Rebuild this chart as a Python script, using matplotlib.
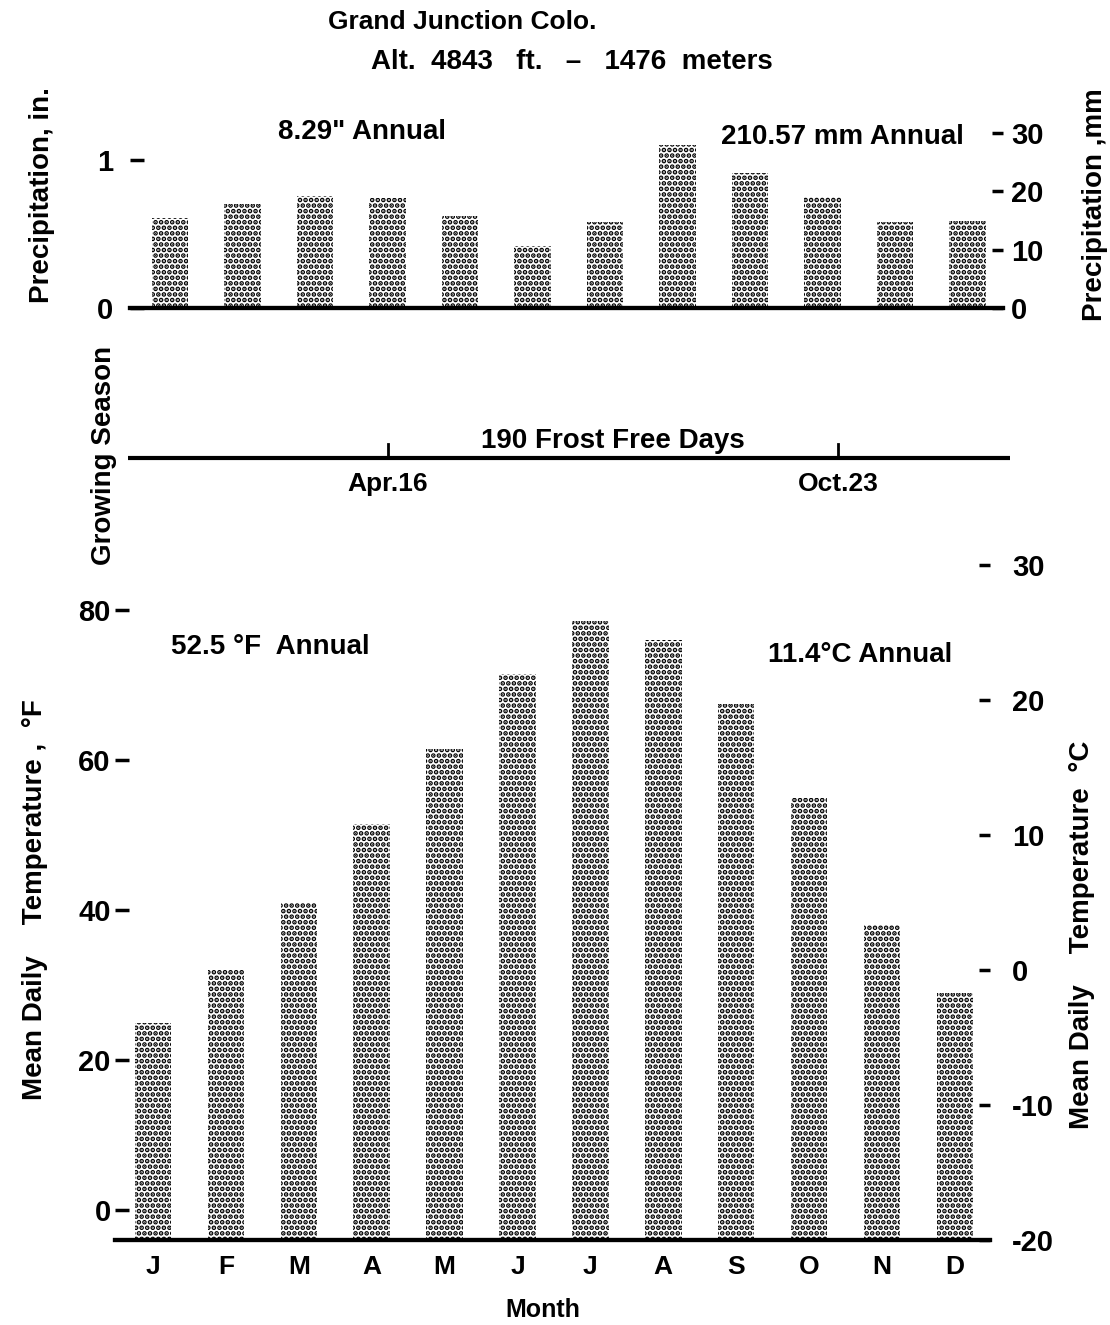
import datetime
import numpy as np
import matplotlib
matplotlib.use('Agg')
import matplotlib.pyplot as plt

# Grand Junction, Colo. climate summary
months = ['J', 'F', 'M', 'A', 'M', 'J', 'J', 'A', 'S', 'O', 'N', 'D']
precip_in = [0.61, 0.70, 0.76, 0.74, 0.62, 0.42, 0.58, 1.10, 0.91, 0.75, 0.58, 0.59]
temp_f = [25, 32, 41, 51.5, 61.5, 71.5, 78.5, 76, 67.5, 55, 38, 29]
annual_precip_in = 8.29
annual_temp_f = 52.5
last_frost = (4, 16)   # month, day
first_frost = (10, 23)
altitude_ft = 4843
altitude_m = 1476

plt.rcParams['font.family'] = ['Liberation Sans', 'DejaVu Sans']
plt.rcParams['font.weight'] = 'bold'
plt.rcParams['hatch.linewidth'] = 2.4
plt.rcParams['axes.unicode_minus'] = False

W, H = 1110, 1325
fig = plt.figure(figsize=(W / 100, H / 100), dpi=100)


def rect(left, top, right, bottom):
    return [left / W, 1 - bottom / H, (right - left) / W, (bottom - top) / H]


def label(x, y, s, size=20, **kw):
    fig.text(x / W, 1 - y / H, s, ha='center', va='center', fontsize=size, **kw)


def clean(ax):
    for side in ['top', 'left', 'right']:
        ax.spines[side].set_visible(False)
    ax.spines['bottom'].set_linewidth(3)


x = np.arange(len(months))
bar_style = dict(width=0.5, color='white', edgecolor='black', linewidth=0, hatch='...')

# --- precipitation ---
ax_p = fig.add_axes(rect(130, 123, 1003, 308))
ax_p.bar(x, precip_in, **bar_style)
ax_p.set_xlim(-0.55, 11.49)
ax_p.set_ylim(0, 1.25)
clean(ax_p)
ax_p.set_xticks([])
ax_p.set_yticks([0, 1])
ax_p.tick_params(axis='y', direction='in', length=10, width=2.5, pad=12, labelsize=21)

ax_pr = ax_p.twinx()
ax_pr.set_ylim(0, 1.25 * 25.4)
clean(ax_pr)
ax_pr.set_yticks([0, 10, 20, 30])
ax_pr.tick_params(axis='y', direction='in', length=8, width=2.5, pad=6, labelsize=21)

label(362, 132, f'{annual_precip_in}" Annual')
label(842, 137, f'{annual_precip_in * 25.4:.2f} mm Annual')
label(42, 195, 'Precipitation, in.', rotation=90)
label(1095, 205, 'Precipitation ,mm', rotation=90)

# --- growing season ---
def month_pos(month, day):
    # position on the same month axis as the bars (bar centre = mid-month)
    days = [31, 28, 31, 30, 31, 30, 31, 31, 30, 31, 30, 31][month - 1]
    return month - 1 + (day - days / 2 - 0.5) / days


g_left, g_right = -0.57, 11.6
ax_g = fig.add_axes(rect(128, 433, 1010, 483))
ax_g.axis('off')
ax_g.set_xlim(g_left, g_right)
ax_g.set_ylim(-1, 1)
ax_g.plot([g_left, g_right], [0, 0], color='black', lw=3, solid_capstyle='butt')
frost_free = (datetime.date(1970, *first_frost) - datetime.date(1970, *last_frost)).days
for m, d in [last_frost, first_frost]:
    xp = month_pos(m, d)
    ax_g.plot([xp, xp], [0, 0.55], color='black', lw=2)
    name = datetime.date(1970, m, d).strftime('%b')
    ax_g.annotate(f'{name}.{d}', (xp, 0), xytext=(0, -10), textcoords='offset points',
                  ha='center', va='top', fontsize=19)
mid = (month_pos(*last_frost) + month_pos(*first_frost)) / 2
ax_g.annotate(f'{frost_free} Frost Free Days', (mid, 0), xytext=(0, 3),
              textcoords='offset points', ha='center', va='bottom', fontsize=20)
label(104, 455, 'Growing Season', rotation=90)

# --- temperature ---
t_base = -4
ax_t = fig.add_axes(rect(115, 550, 990, 1240))
ax_t.bar(x, np.array(temp_f) - t_base, bottom=t_base, **bar_style)
ax_t.set_xlim(-0.52, 11.48)
ax_t.set_ylim(t_base, 88)
clean(ax_t)
ax_t.set_xticks(x)
ax_t.set_xticklabels(months, fontsize=19)
ax_t.tick_params(axis='x', length=0, pad=11)
ax_t.set_yticks([0, 20, 40, 60, 80])
ax_t.tick_params(axis='y', direction='in', length=10, width=2.5, pad=3, labelsize=21)

ax_tr = ax_t.twinx()
ax_tr.set_ylim((t_base - 32) / 1.8, (88 - 32) / 1.8)
clean(ax_tr)
ax_tr.set_yticks([-20, -10, 0, 10, 20, 30])
ax_tr.tick_params(axis='y', direction='in', length=8, width=2.5, pad=16, labelsize=21)

label(270, 647, f'{annual_temp_f} °F  Annual')
label(860, 655, f'{(annual_temp_f - 32) / 1.8:.1f}°C Annual')
label(35, 900, 'Mean Daily    Temperature ,  °F', rotation=90)
label(1082, 935, 'Mean Daily    Temperature  °C', rotation=90)
label(543, 1310, 'Month', size=18)

# --- title ---
label(462, 22, 'Grand Junction Colo.', size=19)
label(572, 62, f'Alt.  {altitude_ft}   ft.   –   {altitude_m}  meters', size=20)

fig.savefig('out.png', dpi=100, facecolor='white')
